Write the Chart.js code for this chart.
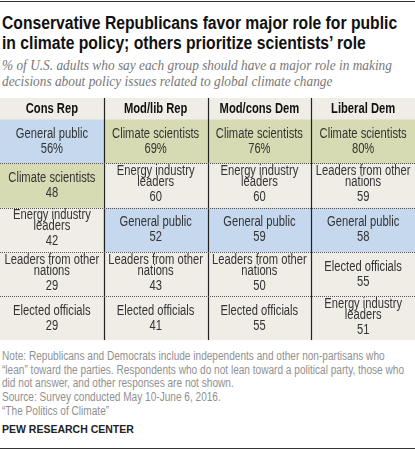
<!DOCTYPE html>
<html>
<head>
<meta charset="utf-8">
<script src="https://cdn.jsdelivr.net/npm/chart.js@4/dist/chart.umd.min.js"></script>
<style>
  body { margin: 0; width: 415px; height: 451px; background: #fff; position: relative; overflow: hidden; font-family: "Liberation Sans", sans-serif; }
  .rule { position: absolute; left: 0; width: 415px; height: 1px; background: #333; }
  .fit { position: absolute; left: 2px; white-space: nowrap; transform-origin: 0 0; }
  #title { top: 13px; font-weight: bold; font-size: 18px; line-height: 20px; color: #111; }
  #sub { top: 58px; font-family: "Liberation Serif", serif; font-style: italic; font-size: 14px; line-height: 16px; color: #777; }
  #wrap { position: absolute; left: 0; top: 98px; width: 415px; height: 242px; }
  #notes { top: 350px; font-size: 12px; line-height: 13.7px; color: #909090; }
  #pew { position: absolute; left: 2px; top: 423px; font-weight: bold; font-size: 10.5px; color: #222; }
</style>
</head>
<body>
<div class="rule" style="top:1px"></div>
<div id="title" class="fit" data-w="395">Conservative Republicans favor major role for public<br>in climate policy; others prioritize scientists’ role</div>
<div id="sub" class="fit" data-w="390">% of U.S. adults who say each group should have a major role in making<br>decisions about policy issues related to global climate change</div>
<div id="wrap"><canvas id="tableChart"></canvas></div>
<div id="notes" class="fit" data-w="402">Note: Republicans and Democrats include independents and other non-partisans who<br>“lean” toward the parties. Respondents who do not lean toward a political party, those who<br>did not answer, and other responses are not shown.<br>Source: Survey conducted May 10-June 6, 2016.<br>“The Politics of Climate”</div>
<div id="pew">PEW RESEARCH CENTER</div>
<div class="rule" style="top:448px"></div>
<script>
// Колонки (группы) и ранжированные ответы в каждой
const columns = ["Cons Rep", "Mod/lib Rep", "Mod/cons Dem", "Liberal Dem"];

const consRepGroups = ["General public", "Climate scientists", "Energy industry\nleaders", "Leaders from other\nnations", "Elected officials"];
const consRepValues = [56, 48, 42, 29, 29];

const modLibRepGroups = ["Climate scientists", "Energy industry\nleaders", "General public", "Leaders from other\nnations", "Elected officials"];
const modLibRepValues = [69, 60, 52, 43, 41];

const modConsDemGroups = ["Climate scientists", "Energy industry\nleaders", "General public", "Leaders from other\nnations", "Elected officials"];
const modConsDemValues = [76, 60, 59, 50, 55];

const liberalDemGroups = ["Climate scientists", "Leaders from other\nnations", "General public", "Elected officials", "Energy industry\nleaders"];
const liberalDemValues = [80, 59, 58, 55, 51];

const allGroups = [consRepGroups, modLibRepGroups, modConsDemGroups, liberalDemGroups];
const allValues = [consRepValues, modLibRepValues, modConsDemValues, liberalDemValues];

const groupColors = { "General public": "#c5d8ee", "Climate scientists": "#d6dbb3" };
const defaultColor = "#efede6";
const HEADER = -0.48;
const SQUEEZE = 0.8;

// сжать HTML-текст по ширине
document.querySelectorAll(".fit").forEach(el => {
    const w = el.getBoundingClientRect().width;
    el.style.transform = `scaleX(${(+el.dataset.w / w).toFixed(3)})`;
});

function cellColor(name) {
    return groupColors[name] || defaultColor;
}

function squeezedText(ctx, text, x, y) {
    ctx.fillText(text, x, y, ctx.measureText(text).width * SQUEEZE);
}

// Каждая строка таблицы - отдельный набор плавающих столбцов
const datasets = [{
    label: "header",
    data: columns.map(() => [HEADER, 0]),
    backgroundColor: defaultColor,
    barPercentage: 1, categoryPercentage: 1
}];
for (let r = 0; r < 5; r++) {
    datasets.push({
        label: "row" + r,
        data: columns.map(() => [r, r + 1]),
        backgroundColor: allGroups.map(g => cellColor(g[r])),
        barPercentage: 1, categoryPercentage: 1
    });
}

const cellText = {
    id: "cellText",
    afterDatasetsDraw(chart) {
        const { ctx, scales: { x, y } } = chart;
        ctx.save();
        // сетка
        ctx.strokeStyle = "#222";
        ctx.lineWidth = 1.2;
        for (let c = 1; c < columns.length; c++) {
            const px = Math.round((x.getPixelForValue(c - 1) + x.getPixelForValue(c)) / 2) + 0.5;
            ctx.beginPath(); ctx.moveTo(px, y.getPixelForValue(HEADER)); ctx.lineTo(px, y.getPixelForValue(5)); ctx.stroke();
        }
        ctx.strokeStyle = "#555";
        ctx.lineWidth = 1;
        ctx.setLineDash([1, 1]);
        for (let r = 1; r < 5; r++) {
            const py = Math.round(y.getPixelForValue(r)) + 0.5;
            ctx.beginPath(); ctx.moveTo(0, py); ctx.lineTo(chart.width, py); ctx.stroke();
        }
        ctx.setLineDash([]);

        ctx.textAlign = "center";
        ctx.textBaseline = "middle";
        columns.forEach((col, c) => {
            const cx = x.getPixelForValue(c);
            ctx.font = "bold 14px 'Liberation Sans', sans-serif";
            ctx.fillStyle = "#111";
            squeezedText(ctx, col, cx, y.getPixelForValue(HEADER / 2) + 1);
            ctx.font = "14px 'Liberation Sans', sans-serif";
            ctx.fillStyle = "#333";
            for (let r = 0; r < 5; r++) {
                const lines = allGroups[c][r].split("\n");
                const num = allValues[c][r] + (r === 0 ? "%" : "");
                const cy = y.getPixelForValue(r + 0.5);
                if (lines.length === 1) {
                    squeezedText(ctx, lines[0], cx, cy - 7);
                    squeezedText(ctx, num, cx, cy + 8);
                } else {
                    squeezedText(ctx, lines[0], cx, cy - 14);
                    squeezedText(ctx, lines[1], cx, cy - 3);
                    squeezedText(ctx, num, cx, cy + 12);
                }
            }
        });
        ctx.restore();
    }
};

new Chart(document.getElementById("tableChart"), {
    type: "bar",
    data: { labels: columns, datasets: datasets },
    options: {
        responsive: true,
        maintainAspectRatio: false,
        animation: false,
        layout: { padding: 0 },
        scales: {
            x: { display: false, stacked: true, offset: true },
            y: { display: false, stacked: false, min: HEADER, max: 5, reverse: true }
        },
        plugins: { legend: { display: false }, tooltip: { enabled: false } }
    },
    plugins: [cellText]
});
</script>
</body>
</html>
